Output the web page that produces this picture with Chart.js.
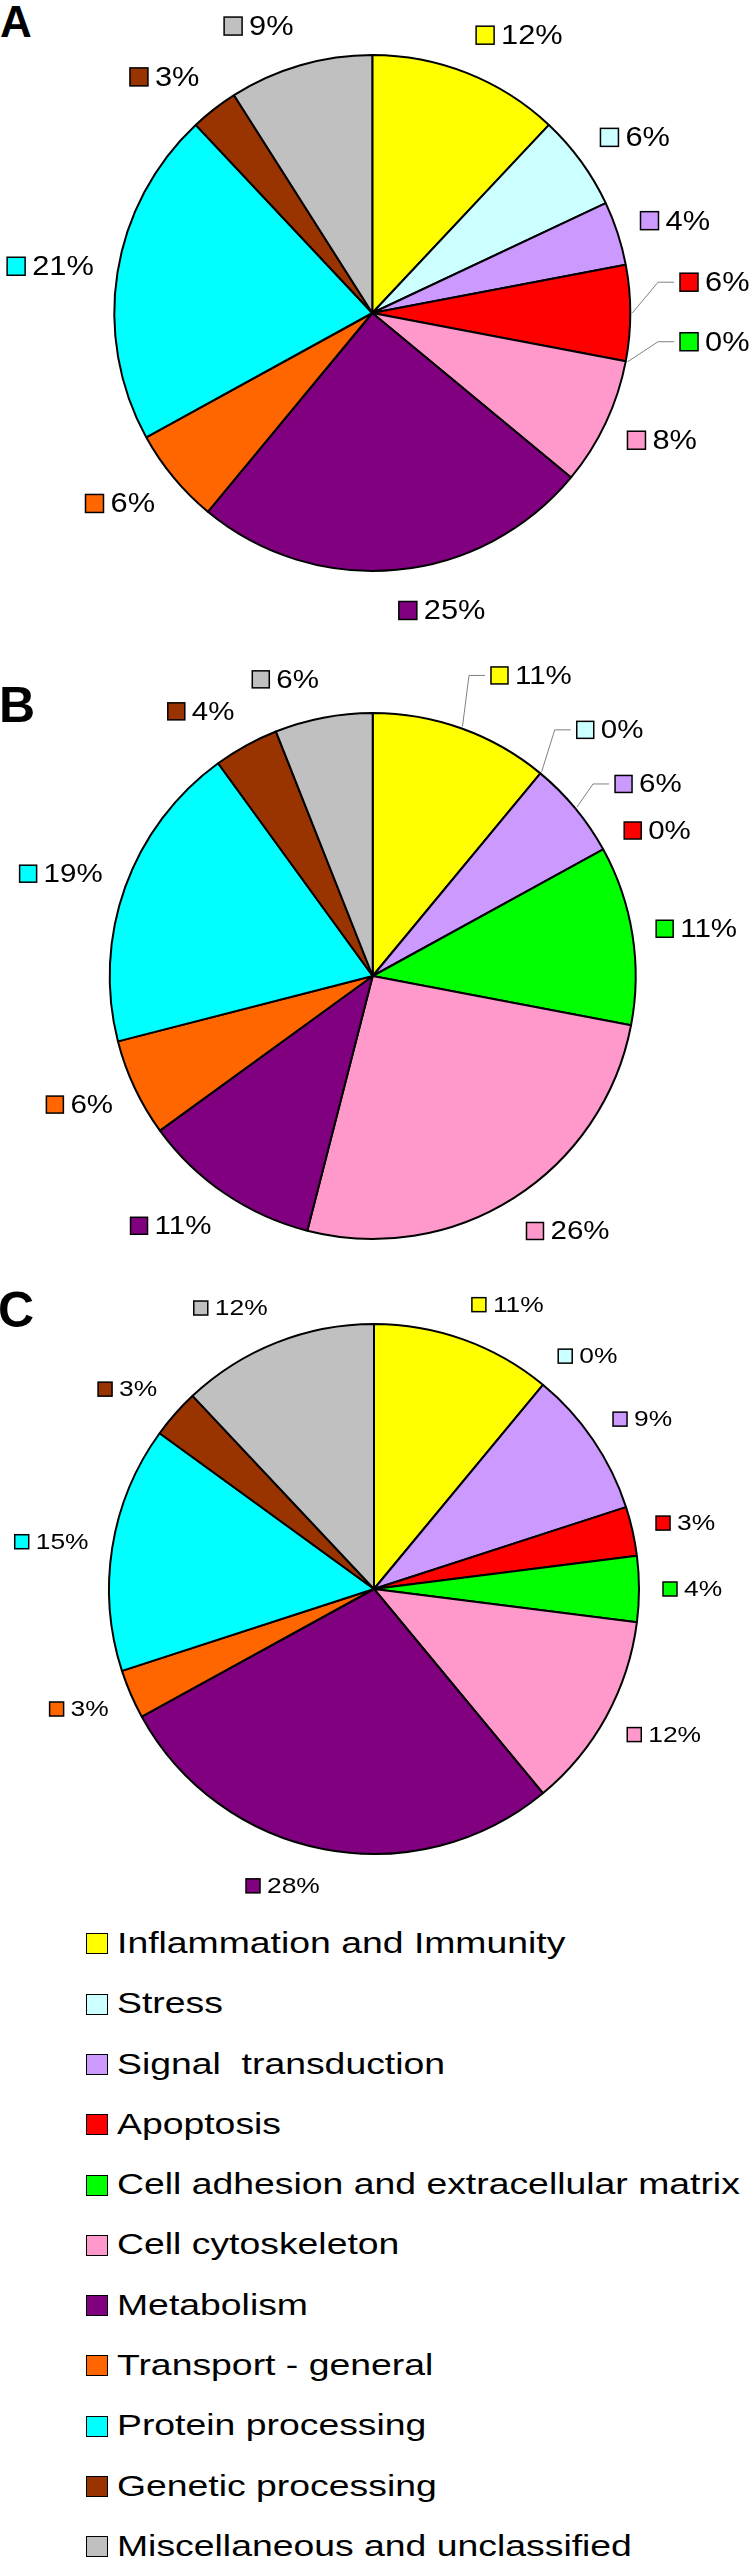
<!DOCTYPE html>
<html>
<head>
<meta charset="utf-8">
<script src="https://cdn.jsdelivr.net/npm/chart.js@4.4.1/dist/chart.umd.min.js"></script>
<style>
  html, body { margin: 0; padding: 0; background: #fff; }
  body { width: 750px; height: 2560px; position: relative; overflow: hidden; font-family: "Liberation Sans", Arial, sans-serif; }
  canvas { position: absolute; left: 0; }
  .panel { position: absolute; font-weight: bold; color: #000; }
  .legend-box { position: absolute; left: 86px; width: 22px; height: 21px; box-sizing: border-box; border: 1.5px solid #000; }
  .legend-text { position: absolute; left: 116.5px; font-size: 30px; line-height: 30px; white-space: pre; color: #000;
                 transform: scaleX(1.245); transform-origin: 0 0; }
</style>
</head>
<body>
<div class="panel" style="left:0;top:-0.3px;font-size:44px;line-height:44px">A</div>
<div class="panel" style="left:-1px;top:679.7px;font-size:50px;line-height:50px">B</div>
<div class="panel" style="left:-2px;top:1284.7px;font-size:50px;line-height:50px">C</div>
<canvas id="pieA" width="750" height="626"></canvas>
<canvas id="pieB" width="750" height="640"></canvas>
<canvas id="pieC" width="750" height="630"></canvas>
<div id="legend"></div>

<script>
const categories = [
    'Inflammation and Immunity',
    'Stress',
    'Signal  transduction',
    'Apoptosis',
    'Cell adhesion and extracellular matrix',
    'Cell cytoskeleton',
    'Metabolism',
    'Transport - general',
    'Protein processing',
    'Genetic processing',
    'Miscellaneous and unclassified'
];
const colors = ['#FFFF00', '#CCFFFF', '#CC99FF', '#FF0000', '#00FF00', '#FF99CC',
                '#800080', '#FF6600', '#00FFFF', '#993300', '#C0C0C0'];

// percentages per panel (same category order)
const valuesA = [12, 6, 4, 6, 0, 8, 25, 6, 21, 3, 9];
const valuesB = [11, 0, 6, 0, 11, 26, 11, 6, 19, 4, 6];
const valuesC = [11, 0, 9, 3, 4, 12, 28, 3, 15, 3, 12];

// label drawing: coloured square + "N%" outside the slice
const pctLabels = {
    id: 'pctLabels',
    afterDatasetsDraw(chart, args, opts) {
        const ctx = chart.ctx;
        const meta = chart.getDatasetMeta(0);
        const ds = chart.data.datasets[0];
        ctx.save();
        ctx.font = opts.font + 'px "Liberation Sans", Arial, sans-serif';
        meta.data.forEach((arc, i) => {
            const p = arc.getProps(['x', 'y', 'startAngle', 'endAngle', 'outerRadius'], true);
            const mid = (p.startAngle + p.endAngle) / 2;
            const dx = Math.cos(mid), dy = Math.sin(mid);
            const text = ds.data[i] + '%';
            const w = opts.box + opts.gap + ctx.measureText(text).width * opts.sx;
            const hEff = opts.font * 1.2;
            let left, cy;
            const shift = opts.moved[i];
            if (shift) {
                // moved label with a grey leader line
                const ex = p.x + p.outerRadius * dx, ey = p.y + p.outerRadius * dy;
                left = ex + shift[0];
                cy = ey + shift[1];
                ctx.strokeStyle = '#808080';
                ctx.lineWidth = 1;
                ctx.beginPath();
                ctx.moveTo(ex + 2 * dx, ey + 2 * dy);
                ctx.lineTo(left - 22, cy);
                ctx.lineTo(left - 6, cy);
                ctx.stroke();
            } else {
                const d = p.outerRadius + opts.offset;
                const px = p.x + d * dx, py = p.y + d * dy;
                left = dx >= 0 ? px : px - w;
                cy = py + dy * hEff / 2;
            }
            const top = cy - opts.box / 2;
            ctx.fillStyle = ds.backgroundColor[i];
            ctx.fillRect(left, top, opts.box, opts.box);
            ctx.strokeStyle = '#000';
            ctx.lineWidth = 1.5;
            ctx.strokeRect(left, top, opts.box, opts.box);
            ctx.save();
            ctx.translate(left + opts.box + opts.gap, top + opts.box);
            ctx.scale(opts.sx, 1);
            ctx.fillStyle = '#000';
            ctx.textBaseline = 'alphabetic';
            ctx.fillText(text, 0, 0);
            ctx.restore();
        });
        ctx.restore();
    }
};

const panels = [
    { el: 'pieA', values: valuesA, cx: 372.3, cy: 313.3, r: 258, font: 28, sx: 1.1, box: 18,
      moved: { 3: [49.7, -30.8], 4: [54.3, -19.6] } },
    { el: 'pieB', values: valuesB, cx: 372.7, cy: 975.6, r: 263, font: 25, sx: 1.18, box: 17,
      moved: { 0: [29.2, -53.1], 1: [36.4, -43.5], 2: [39.7, -24.4] } },
    { el: 'pieC', values: valuesC, cx: 374, cy: 1589.3, r: 265, font: 22, sx: 1.2, box: 14,
      moved: {} }
];

panels.forEach(p => {
    const canvas = document.getElementById(p.el);
    canvas.style.top = (p.cy - canvas.height / 2) + 'px';
    new Chart(canvas, {
        type: 'pie',
        data: {
            labels: categories,
            datasets: [{
                data: p.values,
                backgroundColor: colors,
                borderColor: '#000',
                borderWidth: 2,
                radius: p.r
            }]
        },
        options: {
            responsive: false,
            animation: false,
            layout: { padding: { right: 750 - 2 * p.cx } },
            plugins: {
                legend: { display: false },
                tooltip: { enabled: false },
                pctLabels: { font: p.font, sx: p.sx, box: p.box, gap: 7, offset: 24, moved: p.moved }
            }
        },
        plugins: [pctLabels]
    });
});

// legend at the bottom
const legend = document.getElementById('legend');
categories.forEach((name, i) => {
    const boxTop = 1933.3 + i * 60.3;
    const box = document.createElement('div');
    box.className = 'legend-box';
    box.style.top = boxTop + 'px';
    box.style.background = colors[i];
    legend.appendChild(box);
    const txt = document.createElement('div');
    txt.className = 'legend-text';
    txt.style.top = (boxTop - 5.4) + 'px';
    txt.textContent = name;
    legend.appendChild(txt);
});
</script>
</body>
</html>
